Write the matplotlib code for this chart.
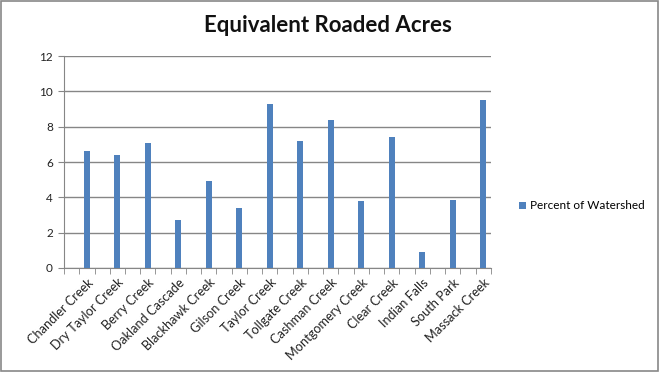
import matplotlib
matplotlib.use("Agg")
import matplotlib.pyplot as plt
from matplotlib.patches import Rectangle
import numpy as np

categories = ["Chandler Creek", "Dry Taylor Creek", "Berry Creek", "Oakland Cascade",
              "Blackhawk Creek", "Gilson Creek", "Taylor Creek", "Tollgate Creek",
              "Cashman Creek", "Montgomery Creek", "Clear Creek", "Indian Falls",
              "South Park", "Massack Creek"]
values = [6.6, 6.4, 7.1, 2.7, 4.9, 3.4, 9.3, 7.2, 8.4, 3.8, 7.4, 0.9, 3.85, 9.5]
series_name = "Percent of Watershed"
yticks = [0, 2, 4, 6, 8, 10, 12]

plt.rcParams['font.family'] = ['Lato', 'DejaVu Sans']
color = "#4F81BD"
grid = "#868686"

fig = plt.figure(figsize=(6.59, 3.72), dpi=100)
fig.patch.set_facecolor("white")
fig.patches.append(Rectangle((0.001, 0.002), 0.997, 0.995, transform=fig.transFigure,
                             fill=False, edgecolor="#888888", linewidth=1.2))

ax = fig.add_axes([64/659, (372-268)/372, (491-64)/659, (268-56)/372])
x = np.arange(len(categories)) + 0.75
ax.bar(x, values, width=0.2, color=color, zorder=3, label=series_name)

ax.set_xlim(0, len(categories))
ax.set_ylim(0, 12)
ax.set_yticks(yticks)
ax.set_yticklabels([str(t) for t in yticks], fontsize=8.5, color="#222222")
ax.yaxis.grid(True, color=grid, linewidth=1.0, zorder=0)
ax.tick_params(axis='y', length=4, color=grid, pad=4)

ax.set_xticks(x)
ax.set_xticklabels(categories, rotation=45, ha='right', rotation_mode='anchor',
                   fontsize=9.2, color="#222222")
ax.tick_params(axis='x', which='major', length=0, pad=6)
ax.set_xticks(np.arange(0, len(categories) + 0.01, 0.5), minor=True)
ax.tick_params(axis='x', which='minor', length=4, color=grid, direction='out')

for s in ['top', 'right']:
    ax.spines[s].set_visible(False)
ax.spines['left'].set_color(grid)
ax.spines['bottom'].set_color(grid)

fig.text(328/659, 1 - 25/372, "Equivalent Roaded Acres", ha='center', va='center',
         fontsize=16, fontweight='bold', color="#111111")

fig.legend(loc='center left', bbox_to_anchor=(508/659, 1 - 206/372), frameon=False,
           fontsize=8.5, handlelength=0.6, handleheight=0.6, handletextpad=0.4)

fig.savefig("out.png", dpi=100, facecolor="white")
